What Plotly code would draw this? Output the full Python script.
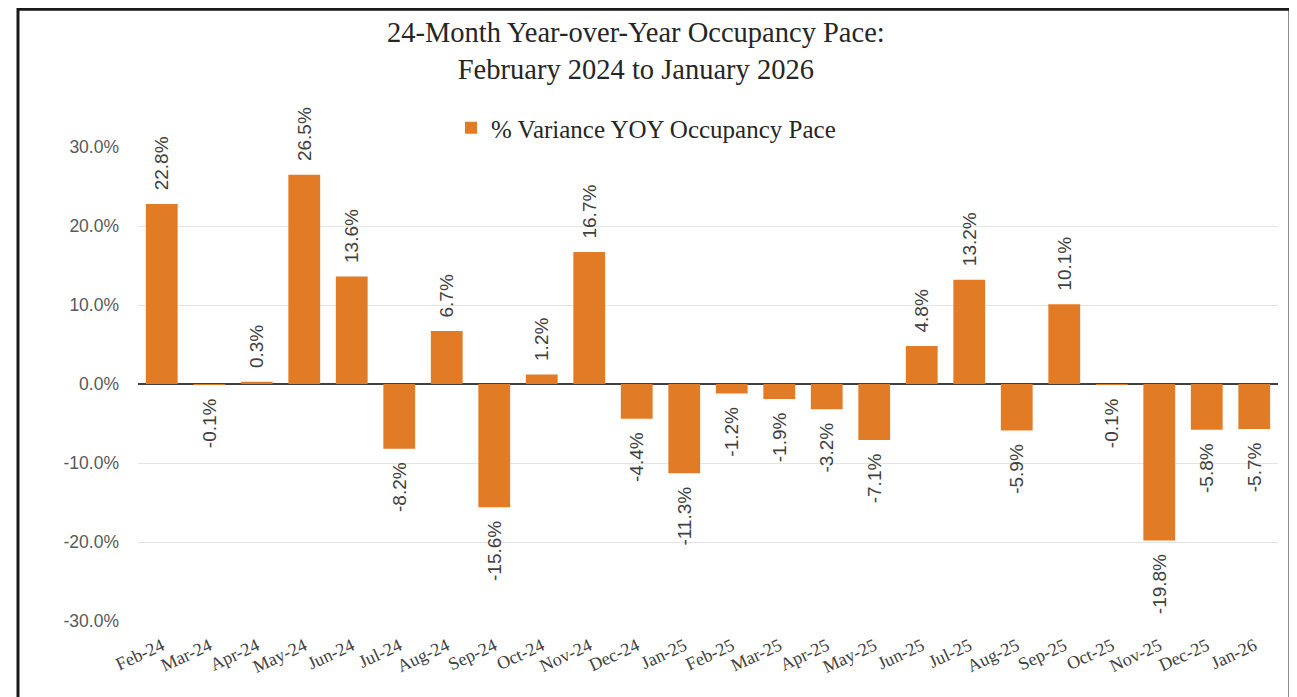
import plotly.graph_objects as go

months = ["Feb-24", "Mar-24", "Apr-24", "May-24", "Jun-24", "Jul-24", "Aug-24", "Sep-24",
          "Oct-24", "Nov-24", "Dec-24", "Jan-25", "Feb-25", "Mar-25", "Apr-25", "May-25",
          "Jun-25", "Jul-25", "Aug-25", "Sep-25", "Oct-25", "Nov-25", "Dec-25", "Jan-26"]
variance = [22.8, -0.1, 0.3, 26.5, 13.6, -8.2, 6.7, -15.6,
            1.2, 16.7, -4.4, -11.3, -1.2, -1.9, -3.2, -7.1,
            4.8, 13.2, -5.9, 10.1, -0.1, -19.8, -5.8, -5.7]
series_name = "% Variance YOY Occupancy Pace"
title_lines = ["24-Month Year-over-Year Occupancy Pace:", "February 2024 to January 2026"]
y_ticks = [-30, -20, -10, 0, 10, 20, 30]
y_tick_labels = ["-30.0%", "-20.0%", "-10.0%", "0.0%", "10.0%", "20.0%", "30.0%"]

SERIF = "Liberation Serif"
SANS = "Liberation Sans"

# figure pixel geometry (page body has an 8px margin)
W, H = 1289, 689
L, R, T, B = 130, 19, 139, 76
PW, PH = W - L - R, H - T - B


def px_x(x):
    return (x - L) / PW


def px_y(y):
    return (H - B - y) / PH


fig = go.Figure()
fig.add_trace(go.Bar(
    x=months, y=variance, name=series_name,
    marker=dict(color="#E27B26", line=dict(width=0)),
    texttemplate="\u00a0\u00a0%{y:.1f}%\u00a0\u00a0", textposition="outside", textangle=-90,
    constraintext="none",
    textfont=dict(family=SANS, size=19, color="#404040"),
    cliponaxis=False,
))

fig.update_layout(
    width=W, height=H,
    paper_bgcolor="white", plot_bgcolor="white",
    margin=dict(l=L, r=R, t=T, b=B, autoexpand=False),
    bargap=0.33,
    showlegend=True,
    legend=dict(
        orientation="h", x=px_x(638), xanchor="center", y=px_y(120), yanchor="middle",
        font=dict(family=SERIF, size=25, color="#262626"),
        bgcolor="rgba(0,0,0,0)", itemwidth=30,
    ),
    xaxis=dict(
        tickangle=-25, tickfont=dict(family=SERIF, size=18, color="#404040"),
        showgrid=False, showline=False, ticks="", ticklabelstandoff=10,
    ),
    yaxis=dict(
        range=[-30, 30], tickvals=y_ticks, ticktext=y_tick_labels,
        tickfont=dict(family=SANS, size=17.5, color="#595959"),
        showgrid=True, gridcolor="#E4E4E4", gridwidth=1.3,
        zeroline=True, zerolinecolor="#404040", zerolinewidth=1.6,
        ticks="", ticklabelstandoff=18,
    ),
    annotations=[dict(
        text="<br>".join(title_lines), xref="paper", yref="paper",
        x=px_x(628), y=px_y(43), xanchor="center", yanchor="middle",
        showarrow=False, align="center",
        font=dict(family=SERIF, size=28.5, color="#262626"),
    )],
    shapes=[dict(
        type="rect", xref="paper", yref="paper",
        x0=px_x(10), x1=px_x(1282),
        y0=px_y(720), y1=px_y(1.2),
        line=dict(color="#1a1a1a", width=3), fillcolor="rgba(0,0,0,0)", layer="above",
    )],
)

fig.write_html("out.html")
